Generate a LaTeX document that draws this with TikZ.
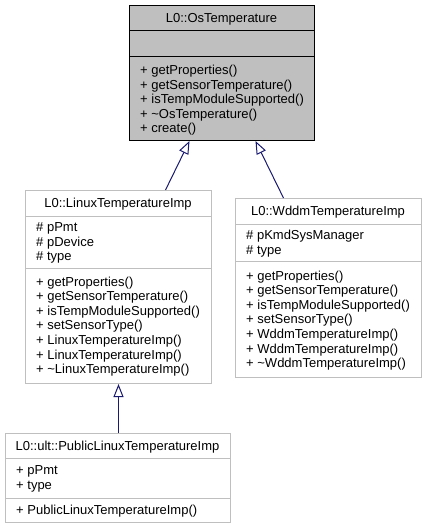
\documentclass[tikz,border=0pt]{standalone}
\usepackage{fontspec}
\setmainfont{Liberation Sans}
\usetikzlibrary{arrows.meta}
\definecolor{classgrey}{HTML}{BFBFBF}
\definecolor{frameline}{HTML}{BFBFBF}
\definecolor{edgeblue}{HTML}{191970}

\begin{document}
\begin{tikzpicture}[x=1pt, y=-1pt,
  classbox/.style={draw=frameline, line width=1pt, inner sep=0pt, anchor=north west},
  sepline/.style={draw=frameline, line width=1pt},
  title/.style={anchor=base, inner sep=0pt, font=\fontsize{13}{14.6}\selectfont},
  member/.style={anchor=base west, inner sep=0pt, font=\fontsize{13}{14.6}\selectfont},
  inherit/.style={draw=edgeblue, line width=1pt, -{Triangle[open, length=13pt, width=10pt]}}
]
  \useasboundingbox (0,0) rectangle (425,529);

  % base class
  \node[classbox, fill=classgrey, draw=black, minimum width=185pt, minimum height=135pt] (os) at (129,5) {};
  \draw[sepline, draw=black] ([yshift=-26pt]os.north west) -- ([yshift=-26pt]os.north east);
  \draw[sepline, draw=black] ([yshift=-52pt]os.north west) -- ([yshift=-52pt]os.north east);
  \node[title] (os-t) at (221.5,22.5) {L0::OsTemperature};
  \foreach \m [count=\i from 0] in {{+ getProperties()}, {+ getSensorTemperature()},
      {+ isTempModuleSupported()}, {+ \textasciitilde OsTemperature()}, {+ create()}}
    \node[member] (os-m\i) at (140,{74.5+14.6*\i}) {\m};

  % linux
  \node[classbox, minimum width=186pt, minimum height=193pt] (linux) at (25,190) {};
  \draw[sepline] ([yshift=-26pt]linux.north west) -- ([yshift=-26pt]linux.north east);
  \draw[sepline] ([yshift=-78pt]linux.north west) -- ([yshift=-78pt]linux.north east);
  \node[title] (linux-t) at (118,207.5) {L0::LinuxTemperatureImp};
  \foreach \m [count=\i from 0] in {{\# pPmt}, {\# pDevice}, {\# type}}
    \node[member] (linux-a\i) at (36,{231.5+14.6*\i}) {\m};
  \foreach \m [count=\i from 0] in {{+ getProperties()}, {+ getSensorTemperature()},
      {+ isTempModuleSupported()}, {+ setSensorType()}, {+ LinuxTemperatureImp()},
      {+ LinuxTemperatureImp()}, {+ \textasciitilde LinuxTemperatureImp()}}
    \node[member] (linux-m\i) at (36,{286+14.6*\i}) {\m};

  % wddm
  \node[classbox, minimum width=186pt, minimum height=178.5pt] (wddm) at (235,198) {};
  \draw[sepline] ([yshift=-26pt]wddm.north west) -- ([yshift=-26pt]wddm.north east);
  \draw[sepline] ([yshift=-63.5pt]wddm.north west) -- ([yshift=-63.5pt]wddm.north east);
  \node[title] (wddm-t) at (328,215.5) {L0::WddmTemperatureImp};
  \foreach \m [count=\i from 0] in {{\# pKmdSysManager}, {\# type}}
    \node[member] (wddm-a\i) at (246,{239.5+14.6*\i}) {\m};
  \foreach \m [count=\i from 0] in {{+ getProperties()}, {+ getSensorTemperature()},
      {+ isTempModuleSupported()}, {+ setSensorType()}, {+ WddmTemperatureImp()},
      {+ WddmTemperatureImp()}, {+ \textasciitilde WddmTemperatureImp()}}
    \node[member] (wddm-m\i) at (246,{280+14.6*\i}) {\m};

  % test class
  \node[classbox, minimum width=225pt, minimum height=89pt] (pub) at (5,433) {};
  \draw[sepline] ([yshift=-25pt]pub.north west) -- ([yshift=-25pt]pub.north east);
  \draw[sepline] ([yshift=-65pt]pub.north west) -- ([yshift=-65pt]pub.north east);
  \node[title] (pub-t) at (117.5,450) {L0::ult::PublicLinuxTemperatureImp};
  \foreach \m [count=\i from 0] in {{+ pPmt}, {+ type}}
    \node[member] (pub-a\i) at (16,{474.5+14.6*\i}) {\m};
  \node[member] (pub-m0) at (16,514.5) {+ PublicLinuxTemperatureImp()};

  % inheritance
  \draw[inherit] ([xshift=47pt]linux.north) -- ([xshift=-32.5pt]os.south);
  \draw[inherit] ([xshift=-45pt]wddm.north) -- ([xshift=33.5pt]os.south);
  \draw[inherit] (pub.north -| linux.south) -- (linux.south);
\end{tikzpicture}
\end{document}
